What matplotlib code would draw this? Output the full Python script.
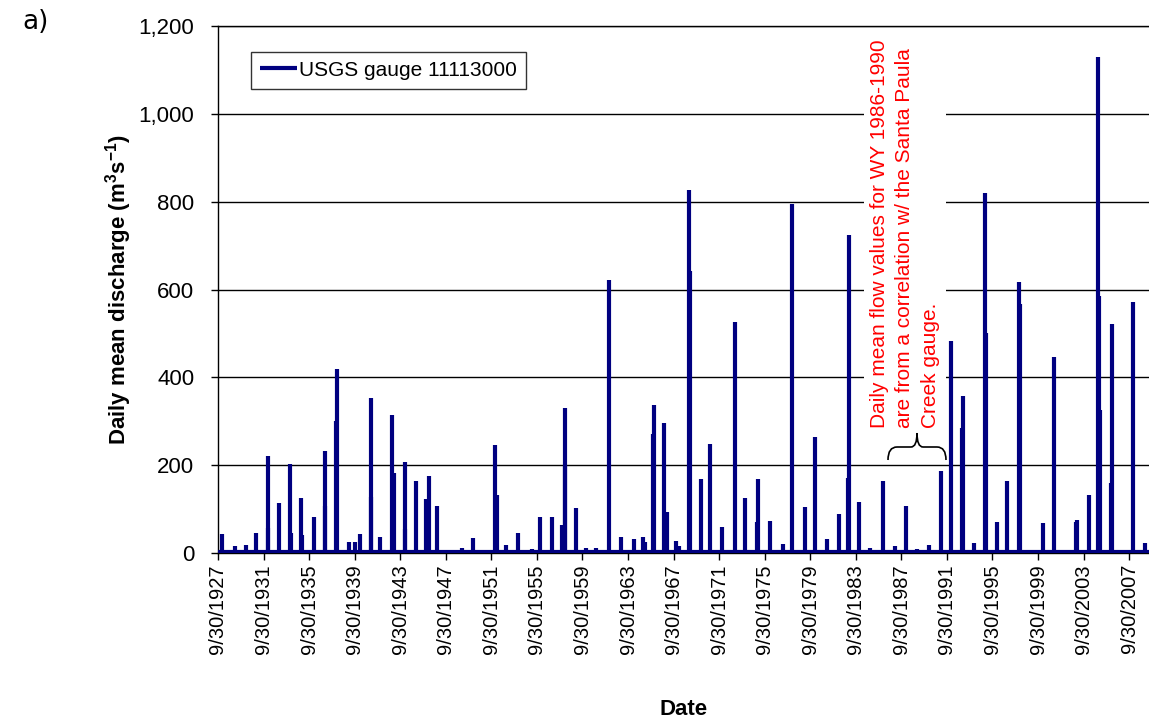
import matplotlib
matplotlib.use("Agg")
import matplotlib.pyplot as plt
from matplotlib.path import Path
from matplotlib.patches import PathPatch
import pandas as pd
from datetime import datetime

plt.rcParams['font.family'] = ['Liberation Sans', 'DejaVu Sans']
plt.rcParams['mathtext.fontset'] = 'custom'
plt.rcParams['mathtext.rm'] = 'Liberation Sans'
plt.rcParams['mathtext.bf'] = 'Liberation Sans:bold'
plt.rcParams['mathtext.default'] = 'bf'

# peak daily mean flows (m3/s)
peak_dates = [
    "1928-02-05", "1929-03-15", "1930-03-15", "1931-02-10", "1932-02-08", "1932-03-01",
    "1933-01-25", "1934-01-15", "1934-02-20", "1935-01-15", "1935-03-01", "1936-02-20",
    "1937-02-10", "1937-03-05", "1938-02-15", "1938-03-02", "1939-04-10", "1939-09-25",
    "1940-03-05", "1941-02-20", "1941-03-15", "1942-01-01", "1943-01-22", "1943-03-01",
    "1944-02-20", "1944-03-10", "1945-02-15", "1945-12-20", "1946-03-30", "1947-01-01",
    "1948-03-15", "1949-03-10", "1950-02-05", "1951-01-10", "1952-01-16", "1952-04-01",
    "1953-01-01", "1954-02-15", "1955-04-10", "1956-01-20", "1957-01-25", "1957-12-10",
    "1958-03-10", "1958-04-03", "1959-03-05", "1960-02-05", "1960-12-15", "1962-02-08",
    "1963-02-15", "1964-03-25", "1965-01-10", "1965-04-10", "1965-11-25", "1965-12-29",
    "1966-12-06", "1967-03-01", "1967-12-15", "1968-03-15", "1969-01-25", "1969-02-25",
    "1970-03-05", "1970-12-20", "1972-01-01", "1973-02-28", "1974-01-20", "1975-02-10",
    "1975-03-15", "1976-03-10", "1977-05-20", "1978-02-24", "1979-04-01", "1980-02-16",
    "1981-03-15", "1982-04-05", "1983-01-25", "1983-03-01", "1984-01-10", "1985-01-01",
    "1986-02-15", "1987-03-15", "1988-03-05", "1989-02-05", "1990-02-20", "1991-03-30",
    "1992-02-15", "1993-01-20", "1993-02-28", "1994-02-05", "1995-01-18", "1995-03-10",
    "1996-02-20", "1997-01-08", "1998-02-06", "1998-02-25", "1999-03-20", "2000-03-05",
    "2001-03-03", "2003-02-10", "2003-03-05", "2004-03-05", "2005-01-10", "2005-02-20",
    "2005-03-20", "2006-03-10", "2006-04-05", "2007-02-15", "2008-01-27", "2009-02-20",
]
peak_flows = [
    43, 16, 18, 46, 221, 58,
    114, 203, 45, 125, 42, 83,
    233, 106, 301, 420, 26, 26,
    43, 128, 354, 37, 315, 182,
    208, 55, 165, 123, 176, 107,
    7, 11, 34, 4, 246, 132,
    18, 46, 8, 81, 81, 64,
    197, 331, 103, 11, 11, 622,
    36, 32, 36, 24, 270, 337,
    296, 93, 27, 15, 827, 641,
    169, 248, 60, 525, 125, 71,
    168, 74, 20, 795, 104, 264,
    32, 88, 171, 725, 115, 12,
    164, 16, 108, 10, 18, 186,
    482, 285, 357, 22, 819, 502,
    71, 163, 617, 568, 5, 68,
    446, 70, 75, 132, 1129, 586,
    326, 159, 522, 5, 571, 23,
]
base_flow = 3
tick_years = list(range(1927, 2008, 4))
tick_labels = [f"9/30/{y}" for y in tick_years]
y_ticks = [0, 200, 400, 600, 800, 1000, 1200]

dates = pd.to_datetime(peak_dates)
navy = '#000080'

fig = plt.figure(figsize=(11.49, 7.24), dpi=100)
ax = fig.add_axes([218 / 1149, 1 - 553 / 724, 1 - 218 / 1149, 527 / 724])

ax.vlines(dates, 0, peak_flows, color=navy, lw=3, zorder=3, label='USGS gauge 11113000')
ax.plot([datetime(1927, 9, 30), datetime(2009, 9, 30)], [base_flow, base_flow],
        color=navy, lw=3, zorder=3)

ax.set_xlim(datetime(1927, 9, 30), datetime(2009, 6, 27))
ax.set_ylim(0, 1200)
ax.set_xticks([datetime(y, 9, 30) for y in tick_years])
ax.set_xticklabels(tick_labels, rotation=90, fontsize=14.5)
ax.set_yticks(y_ticks)
ax.set_yticklabels([f"{v:,}" for v in y_ticks], fontsize=16)
ax.tick_params(axis='both', direction='out', length=5, width=1, color='black', pad=3)
ax.tick_params(axis='y', pad=12)

ax.grid(axis='y', color='black', lw=1)
ax.set_axisbelow(True)
for s in ['left', 'bottom', 'top']:
    ax.spines[s].set_color('black')
    ax.spines[s].set_linewidth(1)
ax.spines['right'].set_visible(False)

ax.set_xlabel('Date', fontsize=16, fontweight='bold')
ax.xaxis.set_label_coords(0.5, (553 - 699) / 527)
ax.set_ylabel(r'Daily mean discharge (m$^{3}$s$^{-1}$)', fontsize=16, fontweight='bold')
ax.yaxis.set_label_coords((134 - 218) / 931, 0.5)

leg = ax.legend(loc='upper left', bbox_to_anchor=(33 / 931, 501 / 527), borderaxespad=0,
                fontsize=15, frameon=True, fancybox=False, edgecolor='black',
                handlelength=1.8, handletextpad=0.1, borderpad=0.42)
leg.get_frame().set_linewidth(1)

note = ("Daily mean flow values for WY 1986-1990\n"
        "are from a correlation w/ the Santa Paula\n"
        "Creek gauge.")
ax.text((905 - 218) / 931, (553 - 428) / 527, note, transform=ax.transAxes, rotation=90,
        ha='center', va='bottom', multialignment='left', color='red', fontsize=15,
        linespacing=1.45, zorder=5,
        bbox=dict(facecolor='white', edgecolor='none', pad=4))


def px(x, y):
    return ((x - 218) / 931, (553 - y) / 527)


verts = [px(888, 460), px(888, 447), px(897, 447), px(911, 447), px(917, 447), px(917, 433),
         px(917, 447), px(923, 447), px(937, 447), px(946, 447), px(946, 460)]
codes = [Path.MOVETO, Path.CURVE3, Path.CURVE3, Path.LINETO, Path.CURVE3, Path.CURVE3,
         Path.CURVE3, Path.CURVE3, Path.LINETO, Path.CURVE3, Path.CURVE3]
ax.add_patch(PathPatch(Path(verts, codes), transform=ax.transAxes, fill=False,
                       edgecolor='black', lw=1.2, zorder=6, clip_on=False))

fig.text(22 / 1149, 1 - 22 / 724, 'a)', fontsize=19, family='DejaVu Sans', va='center')

fig.savefig('out.png', dpi=100)
